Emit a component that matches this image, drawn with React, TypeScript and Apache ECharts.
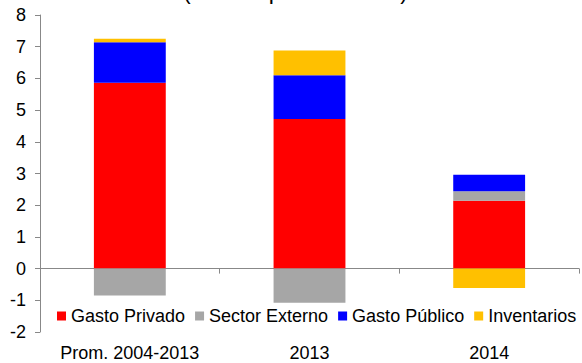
import React, { useEffect, useRef } from "react";
import * as echarts from "echarts";

const categories = ["Prom. 2004-2013", "2013", "2014"];
const gastoPrivado = [5.86, 4.72, 2.14];
const sectorExterno = [-0.85, -1.08, 0.3];
const gastoPublico = [1.28, 1.38, 0.52];
const inventarios = [0.11, 0.78, -0.61];
const seriesNames = ["Gasto Privado", "Sector Externo", "Gasto Público", "Inventarios"];
const colors = ["#FF0000", "#A6A6A6", "#0000FF", "#FFC000"];
const title = "(Puntos porcentuales)";

const FONT = "'Liberation Sans', Arial, sans-serif";

export default function App() {
  const ref = useRef<HTMLDivElement>(null);
  useEffect(() => {
    if (!ref.current) return;
    const chart = echarts.init(ref.current, null, { renderer: "svg" });
    const data = [gastoPrivado, sectorExterno, gastoPublico, inventarios];
    chart.setOption({
      animation: false,
      textStyle: { fontFamily: FONT },
      graphic: [
        {
          type: "text",
          x: 295.5,
          y: -9,
          style: {
            text: title,
            font: `23px ${FONT}`,
            fill: "#000",
            textAlign: "center",
            textVerticalAlign: "middle",
          },
        },
      ],
      legend: {
        left: 57,
        top: 307,
        icon: "rect",
        itemWidth: 9,
        itemHeight: 9,
        itemGap: 10,
        padding: 0,
        textStyle: { fontSize: 18, color: "#000", fontFamily: FONT },
        data: seriesNames,
      },
      grid: { left: 40, right: 3, top: 15, bottom: 31, containLabel: false },
      xAxis: [
        {
          type: "category",
          data: categories,
          axisLine: { onZero: true, lineStyle: { color: "#888", width: 1 } },
          axisTick: { show: true, length: 5, inside: false, lineStyle: { color: "#888" } },
          axisLabel: { show: false },
        },
        {
          type: "category",
          data: categories,
          position: "bottom",
          axisLine: { show: false, onZero: false },
          axisTick: { show: false },
          axisLabel: { show: true, interval: 0, fontSize: 18, color: "#000", fontFamily: FONT, margin: 12 },
        },
      ],
      yAxis: {
        type: "value",
        min: -2,
        max: 8,
        interval: 1,
        axisLine: { show: true, lineStyle: { color: "#888" } },
        axisTick: { show: true, length: 5, lineStyle: { color: "#888" } },
        splitLine: { show: false },
        axisLabel: { fontSize: 18, color: "#000", fontFamily: FONT, margin: 14 },
      },
      series: seriesNames.map((name, i) => ({
        name,
        type: "bar",
        stack: "total",
        xAxisIndex: 0,
        barWidth: "40%",
        itemStyle: { color: colors[i] },
        data: data[i],
      })),
    });
    return () => chart.dispose();
  }, []);
  return <div ref={ref} style={{ width: 582, height: 363, position: "absolute", left: 0, top: 0 }} />;
}
